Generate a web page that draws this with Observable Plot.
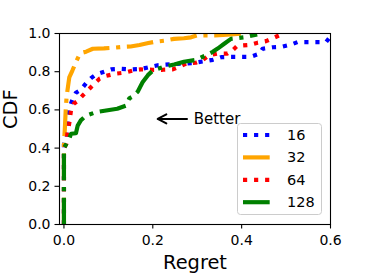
<!DOCTYPE html>
<html><head><meta charset="utf-8">
<script src="https://cdn.jsdelivr.net/npm/d3@7"></script>
<script src="https://cdn.jsdelivr.net/npm/@observablehq/plot@0.6"></script>
<style>
html,body{margin:0;padding:0;background:#fff;}
#wrap{position:relative;width:366px;height:274px;font-family:"DejaVu Sans",sans-serif;}
#legend{position:absolute;left:237px;top:123px;width:85px;height:92px;}
</style></head><body><div id="wrap"></div>
<script>
// ---- data ----
const labels = ["16", "32", "64", "128"];
const colors = ["blue", "orange", "red", "green"];
const styles = ["dotted", "dashdot", "dotted", "dashdot"];

const regret16 = [0, 0, 0.006, 0.008, 0.01, 0.014, 0.02, 0.027, 0.038, 0.05, 0.061, 0.072, 0.091, 0.106, 0.128, 0.15, 0.175, 0.211, 0.25, 0.29, 0.335, 0.354, 0.376, 0.42, 0.44, 0.447, 0.47, 0.49, 0.511, 0.526, 0.59, 0.605];
const cdf16    = [0, 0.42, 0.45, 0.52, 0.58, 0.62, 0.66, 0.69, 0.705, 0.74, 0.766, 0.785, 0.80, 0.812, 0.815, 0.812, 0.815, 0.834, 0.84, 0.845, 0.862, 0.876, 0.878, 0.878, 0.894, 0.92, 0.928, 0.93, 0.942, 0.955, 0.955, 1.0];

const regret32 = [0, 0, 0.002, 0.004, 0.006, 0.009, 0.012, 0.019, 0.027, 0.034, 0.042, 0.05, 0.065, 0.09, 0.11, 0.132, 0.15, 0.17, 0.19, 0.203, 0.225, 0.248, 0.27, 0.286, 0.30, 0.34, 0.376, 0.40];
const cdf32    = [0, 0.42, 0.5, 0.6, 0.67, 0.72, 0.77, 0.806, 0.85, 0.885, 0.90, 0.905, 0.92, 0.922, 0.925, 0.93, 0.932, 0.94, 0.95, 0.956, 0.962, 0.972, 0.975, 0.98, 0.99, 0.99, 0.995, 1.0];

const regret64 = [0, 0, 0.005, 0.008, 0.012, 0.016, 0.022, 0.03, 0.042, 0.053, 0.068, 0.08, 0.095, 0.117, 0.136, 0.155, 0.173, 0.2, 0.222, 0.245, 0.26, 0.275, 0.297, 0.312, 0.327, 0.346, 0.368, 0.38, 0.39, 0.417, 0.436, 0.455, 0.47, 0.489];
const cdf64    = [0, 0.40, 0.42, 0.48, 0.53, 0.6, 0.632, 0.645, 0.675, 0.70, 0.737, 0.763, 0.778, 0.79, 0.795, 0.806, 0.812, 0.81, 0.81, 0.812, 0.826, 0.843, 0.847, 0.86, 0.886, 0.895, 0.895, 0.913, 0.935, 0.94, 0.952, 0.96, 0.975, 0.995];

const regret128 = [0, 0, 0.005, 0.012, 0.016, 0.027, 0.031, 0.038, 0.05, 0.072, 0.095, 0.12, 0.14, 0.147, 0.155, 0.166, 0.177, 0.189, 0.2, 0.211, 0.226, 0.248, 0.27, 0.297, 0.32, 0.335, 0.346, 0.36, 0.376, 0.406, 0.435];
const cdf128    = [0, 0.40, 0.42, 0.45, 0.475, 0.478, 0.518, 0.545, 0.57, 0.588, 0.597, 0.606, 0.623, 0.66, 0.67, 0.695, 0.745, 0.782, 0.806, 0.815, 0.826, 0.838, 0.852, 0.862, 0.886, 0.904, 0.921, 0.945, 0.972, 0.98, 0.995];

const xTicks = [0, 0.2, 0.4, 0.6];
const yTicks = [0, 0.2, 0.4, 0.6, 0.8, 1.0];
const xLabel = "Regret";
const yLabel = "CDF";

const annotText = ["Better"];
const annotTail = [0.277];
const annotHead = [0.211];
const annotY = [0.553];
const annotTextX = [0.292];

// ---- build ----
const regrets = [regret16, regret32, regret64, regret128];
const cdfs = [cdf16, cdf32, cdf64, cdf128];
const lw = 4.17;
const dashes = {dotted: `${lw},${1.65*lw}`, dashdot: `${6.4*lw},${1.6*lw},${lw},${1.6*lw}`};

const lineMarks = labels.map((lab, i) => {
  const rows = regrets[i].map((r, j) => ({regret: r, cdf: cdfs[i][j]}));
  return Plot.line(rows, {
    x: "regret", y: "cdf", stroke: colors[i], strokeWidth: lw,
    strokeDasharray: dashes[styles[i]], strokeLinecap: "butt", strokeLinejoin: "round",
    clip: true
  });
});

const annot = annotText.map((t, i) => ({text: t, x1: annotTail[i], x2: annotHead[i], y: annotY[i], tx: annotTextX[i]}));

const chart = Plot.plot({
  width: 366, height: 274,
  marginLeft: 59, marginRight: 36, marginTop: 33, marginBottom: 50,
  style: {fontFamily: "DejaVu Sans", fontSize: "14px", color: "black", background: "white"},
  x: {domain: [-0.01, 0.6]},
  y: {domain: [0, 1]},
  marks: [
    Plot.axisX({ticks: xTicks, tickFormat: d3.format(".1f"), tickSize: 4.5, tickPadding: 6, fontSize: 14, label: null, strokeWidth: 1.1}),
    Plot.axisY({ticks: yTicks, tickFormat: d3.format(".1f"), tickSize: 4.5, tickPadding: 4.5, fontSize: 14, label: null, strokeWidth: 1.1}),
    ...lineMarks,
    Plot.arrow(annot, {x1: "x1", x2: "x2", y1: "y", y2: "y", stroke: "black", strokeWidth: 2, headLength: 9, headAngle: 55}),
    Plot.text(annot, {x: "tx", y: "y", text: "text", textAnchor: "start", fontSize: 15, lineAnchor: "middle"}),
    Plot.frame({stroke: "black", strokeWidth: 1.1}),
    Plot.text([yLabel], {frameAnchor: "left", rotate: -90, dx: -48.5, fontSize: 19.4, text: d => d}),
    Plot.text([xLabel], {frameAnchor: "bottom", dy: 37.8, fontSize: 19.4, lineAnchor: "middle", text: d => d})
  ]
});

const wrap = document.getElementById("wrap");
wrap.appendChild(chart);

// legend overlay
const leg = d3.select(wrap).append("div").attr("id", "legend")
  .append("svg").attr("width", 85).attr("height", 92);
leg.append("rect").attr("x", 0.5).attr("y", 0.5).attr("width", 84).attr("height", 91)
  .attr("rx", 3).attr("fill", "white").attr("fill-opacity", 0.8).attr("stroke", "#cccccc");
labels.forEach((lab, i) => {
  const cy = 12 + i * 22.4;
  leg.append("line").attr("x1", 6).attr("x2", 34).attr("y1", cy).attr("y2", cy)
    .attr("stroke", colors[i]).attr("stroke-width", lw)
    .attr("stroke-dasharray", dashes[styles[i]]).attr("stroke-linecap", "butt");
  leg.append("text").attr("x", 50).attr("y", cy).attr("dy", "0.35em")
    .attr("font-family", "DejaVu Sans").attr("font-size", 14.5).attr("fill", "black").text(lab);
});
</script></body></html>
